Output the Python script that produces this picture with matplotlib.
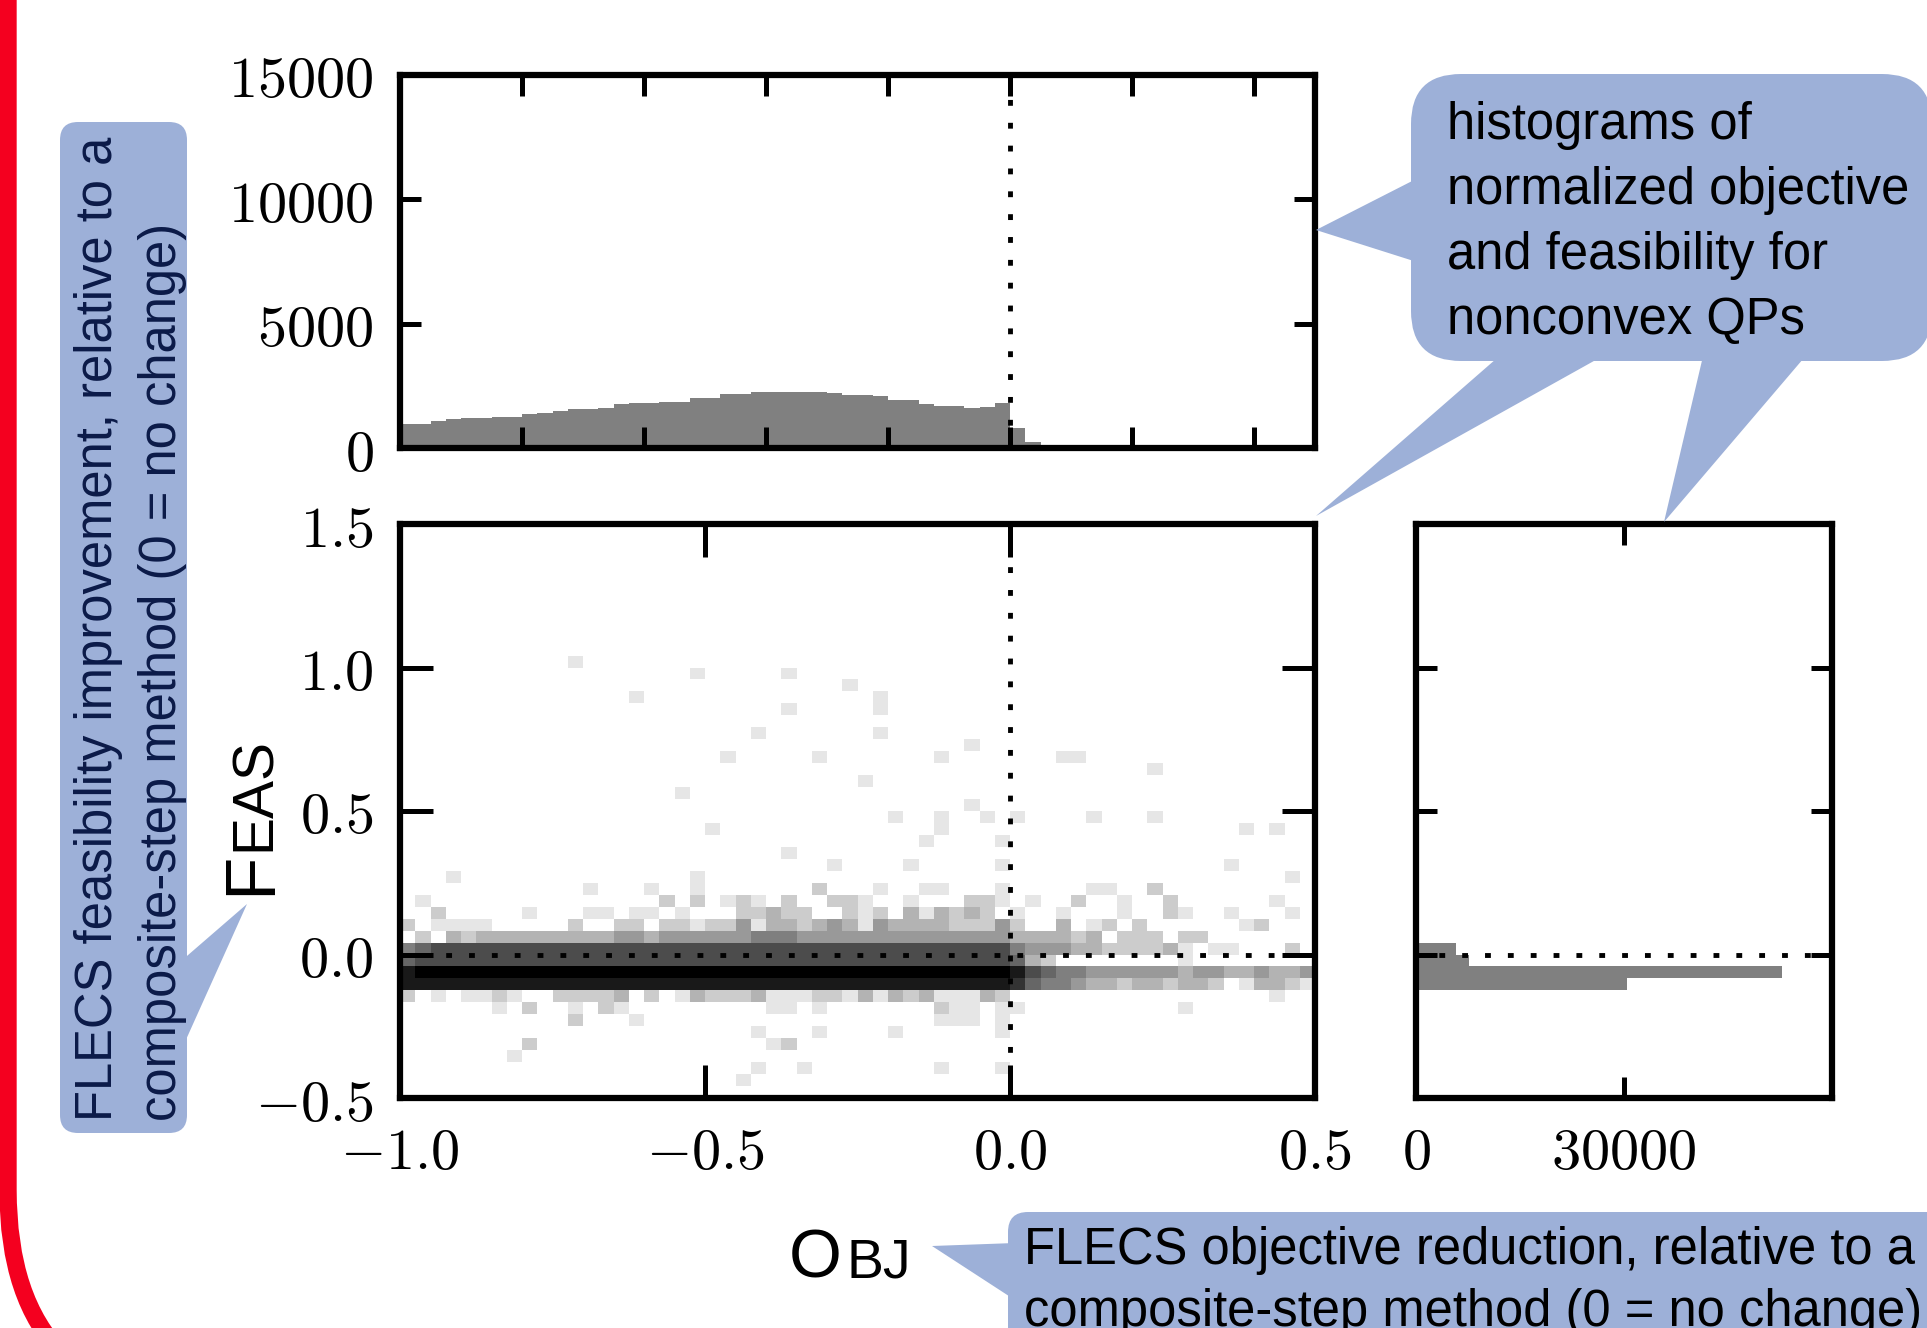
# FLECS vs composite-step on nonconvex QPs
# Joint histogram of normalized objective / feasibility change, with marginals
# and the slide call-outs around it.

import numpy as np
import matplotlib
matplotlib.use("Agg")
import matplotlib.pyplot as plt
from matplotlib.patches import FancyBboxPatch, Polygon


# Lazy configs
W_PX, H_PX = 1927, 1328
DPI = 100
BLUE = "#9db0d8"
NAVY = "#0b1a48"
RED = "#f4001f"
SANS = ["Liberation Sans", "DejaVu Sans"]

# Bin edges (objective on x, feasibility on y)
obj_edges = np.linspace(-1.0, 0.5, 61)
feas_edges = np.linspace(-0.5, 1.5, 49)

# Top marginal: counts per objective bin
obj_counts = [950, 950, 1100, 1150, 1190, 1210, 1260, 1260, 1350, 1420,
              1490, 1550, 1550, 1620, 1770, 1790, 1790, 1860, 1860, 2000,
              2000, 2170, 2170, 2240, 2260, 2260, 2240, 2260, 2200, 2150,
              2150, 2100, 1930, 1930, 1770, 1690, 1690, 1590, 1660, 1790,
              790, 250, 0, 0, 0, 0, 0, 0, 0, 0,
              0, 0, 0, 0, 0, 0, 0, 0, 0, 0]

# Right marginal: counts per feasibility bin (bottom to top)
feas_counts = [0] * 9 + [30500, 52800, 7600, 5760, 490] + [0] * 34

# Joint histogram shade (0 = empty, a = black), one string per feasibility
# bin from 1.0 down to -0.5, 60 objective bins each
Z = "0000000000"
shade_rows = [
    Z + "0100000000" + Z + Z + Z + Z,
    Z + "0000000001" + "0000010000" + Z + Z + Z,
    Z + Z + "0000000001" + Z + Z + Z,
    Z + "0000010000" + Z + "0100000000" + Z + Z,
    Z + Z + "0000010000" + "0100000000" + Z + Z,
    Z + Z + Z + Z + Z + Z,
    Z + Z + "0001000000" + "0100000000" + Z + Z,
    Z + Z + Z + "0000000100" + Z + Z,
    Z + Z + "0100000100" + "0000010000" + "0001100000" + Z,
    Z + Z + Z + Z + "0000000001" + Z,
    Z + Z + Z + "1000000000" + Z + Z,
    Z + "0000000010" + Z + Z + Z + Z,
    Z + Z + Z + "0000000100" + Z + Z,
    Z + Z + Z + "0010010010" + "1000010001" + Z,
    Z + Z + "1000000000" + "0000010000" + Z + "0000010100",
    Z + Z + Z + "0000100001" + Z + Z,
    Z + Z + "0000010000" + Z + Z + Z,
    Z + Z + "0000000010" + "0001000001" + Z + "0000100000",
    "0001000000" + "0000000001" + Z + Z + Z + "0000000010",
    Z + "0010001001" + "0000000200" + "0100110001" + "0000011002" + Z,
    "0100000000" + "0000000202" + "0121020022" + "1001000221" + "0100200100" + "2000000100",
    "0020000010" + "0011011010" + "0022322002" + "1203132320" + "1001000100" + "2100100010",
    "2011110000" + "0200220221" + "2241332343" + "1433332224" + "2003012020" + "0000012000",
    "0203233333" + "3333443444" + "4445554444" + "4444444444" + "3333230222" + "0220000000",
    "5677777777" + "7777777777" + "7777777777" + "7777777777" + "5444332222" + "3101100020",
    "6777777777" + "7777777777" + "7777777777" + "7777777777" + "6320000000" + "0100000000",
    "9aaaaaaaaa" + "aaaaaaaaaa" + "aaaaaaaaaa" + "aaaaaaaaaa" + "9765544444" + "4344334334",
    "9999999999" + "9999999999" + "9999999999" + "9999999999" + "8655433233" + "2332013321",
    "2010112100" + "2222302013" + "2223111221" + "3132311132" + Z + "0000000100",
    "0000001020" + "0102100000" + "0000110100" + "0000021101" + "1000000000" + "0100000000",
    Z + "0200010000" + Z + "0000011101" + Z + Z,
    Z + Z + "0001000100" + "0010000001" + Z + Z,
    "0000000020" + Z + "0000120000" + Z + Z + Z,
    "0000000100" + Z + Z + Z + Z + Z,
    Z + Z + "0001001000" + "0000010001" + Z + Z,
    Z + Z + "0010000000" + Z + Z + Z,
    Z + Z + Z + Z + Z + Z,
]

# Tick labels
main_xticks = [-1.0, -0.5, 0.0, 0.5]
main_yticks = [-0.5, 0.0, 0.5, 1.0, 1.5]
top_yticks = [0, 5000, 10000, 15000]
side_xticks = [0, 30000]

# Call-out texts
feas_note = "FLECS feasibility improvement, relative to a\ncomposite-step method (0 = no change)"
hist_note = "histograms of\nnormalized objective\nand feasibility for\nnonconvex QPs"
obj_note = "FLECS objective reduction, relative to a\ncomposite-step method (0 = no change)"


def px(x, y):
    # figure pixels from the top-left corner -> inches for dpi_scale_trans
    return x / DPI, (H_PX - y) / DPI


def rect_axes(fig, left, top, right, bottom):
    return fig.add_axes([left / W_PX, 1 - bottom / H_PX,
                         (right - left) / W_PX, (bottom - top) / H_PX])


def tex(vals, fmt):
    return ["$" + fmt.format(v) + "$" for v in vals]


def style_axes(ax, length):
    for sp in ax.spines.values():
        sp.set_linewidth(4.5)
    ax.tick_params(direction="in", top=True, right=True, length=length,
                   width=3.6, labelsize=42, pad=19)


def callout(fig, box, radius, pointers):
    x0, y0, x1, y1 = box
    fig.add_artist(FancyBboxPatch(px(x0, y1), (x1 - x0) / DPI, (y1 - y0) / DPI,
                                  boxstyle=f"round,pad=0,rounding_size={radius / DPI}",
                                  transform=fig.dpi_scale_trans, facecolor=BLUE,
                                  edgecolor="none", zorder=5))
    for tri in pointers:
        fig.add_artist(Polygon([px(*p) for p in tri], closed=True,
                               transform=fig.dpi_scale_trans, facecolor=BLUE,
                               edgecolor="none", zorder=5))


def dotted():
    return dict(color="k", lw=3.5, linestyle=(0, (1.2, 3.5)), zorder=3)


def main():
    plt.rcParams["mathtext.fontset"] = "cm"
    fig = plt.figure(figsize=(W_PX / DPI, H_PX / DPI), dpi=DPI)
    fig.patch.set_facecolor("white")

    grid = np.array([[int(c, 16) for c in row] for row in shade_rows[::-1]], dtype=float)
    grid = np.vstack([grid, np.zeros((len(feas_edges) - 1 - grid.shape[0], grid.shape[1]))])

    # Joint histogram
    ax = rect_axes(fig, 400, 524, 1315, 1098)
    ax.pcolormesh(obj_edges, feas_edges, grid / 10.0, cmap="gray_r", vmin=0, vmax=1)
    ax.axvline(0, **dotted())
    ax.axhline(0, **dotted())
    ax.set_xlim(-1.0, 0.5)
    ax.set_ylim(-0.5, 1.5)
    ax.set_xticks(main_xticks, tex(main_xticks, "{:.1f}"))
    ax.set_yticks(main_yticks, tex(main_yticks, "{:.1f}"))
    style_axes(ax, 24)

    # Objective marginal
    axt = rect_axes(fig, 400, 75, 1315, 448)
    axt.stairs(obj_counts, obj_edges, fill=True, color="#808080", lw=0)
    axt.axvline(0, **dotted())
    axt.set_xlim(-1.0, 0.5)
    axt.set_ylim(0, 15000)
    axt.set_xticks(np.arange(-1.0, 0.45, 0.2))
    axt.set_yticks(top_yticks, tex(top_yticks, "{:d}"))
    style_axes(axt, 15)
    axt.tick_params(labelbottom=False)

    # Feasibility marginal
    axr = rect_axes(fig, 1416, 524, 1832, 1098)
    axr.stairs(feas_counts, feas_edges, fill=True, color="#808080", lw=0,
               orientation="horizontal")
    axr.axhline(0, **dotted())
    axr.set_ylim(-0.5, 1.5)
    axr.set_xlim(0, 60000)
    axr.set_yticks(main_yticks)
    axr.set_xticks(side_xticks, tex(side_xticks, "{:d}"))
    style_axes(axr, 15)
    axr.tick_params(labelleft=False)

    # Axis names in small caps
    t = fig.dpi_scale_trans
    fig.text(*px(270, 895), "F", rotation=90, rotation_mode="anchor", ha="left",
             va="baseline", fontsize=51, family=SANS, transform=t)
    fig.text(*px(270, 851), "EAS", rotation=90, rotation_mode="anchor", ha="left",
             va="baseline", fontsize=41, family=SANS, transform=t)
    fig.text(*px(789, 1278), "O", ha="left", va="baseline", fontsize=49, family=SANS, transform=t)
    fig.text(*px(846, 1278), "BJ", ha="left", va="baseline", fontsize=40, family=SANS, transform=t)

    # Call-outs
    callout(fig, (60, 122, 187, 1133), 18, [[(180, 962), (180, 1053), (247, 904)]])
    fig.text(*px(74, 1121), feas_note, rotation=90, rotation_mode="anchor", ha="left",
             va="top", fontsize=36.5, color=NAVY, family=SANS, linespacing=1.4,
             transform=t, zorder=6)

    callout(fig, (1411, 74, 1932, 361), 50,
            [[(1420, 177), (1420, 263), (1316, 230)],
             [(1504, 352), (1610, 352), (1316, 516)],
             [(1704, 352), (1809, 352), (1664, 522)]])
    fig.text(*px(1447, 101), hist_note, ha="left", va="top", fontsize=36.5,
             family=SANS, linespacing=1.42, transform=t, zorder=6)

    callout(fig, (1008, 1212, 1990, 1420), 20, [[(1015, 1243), (1015, 1300), (932, 1246)]])
    fig.text(*px(1024, 1226), obj_note, ha="left", va="top", fontsize=36.5,
             family=SANS, linespacing=1.33, transform=t, zorder=6)

    # Slide frame
    fig.add_artist(FancyBboxPatch((0.08, -0.81), 30, 30,
                                  boxstyle="round,pad=0,rounding_size=2.19",
                                  transform=t, facecolor="none", edgecolor=RED,
                                  lw=12.5, zorder=10))

    fig.savefig("out.png", dpi=DPI, facecolor="white")


if __name__ == "__main__":
    main()
